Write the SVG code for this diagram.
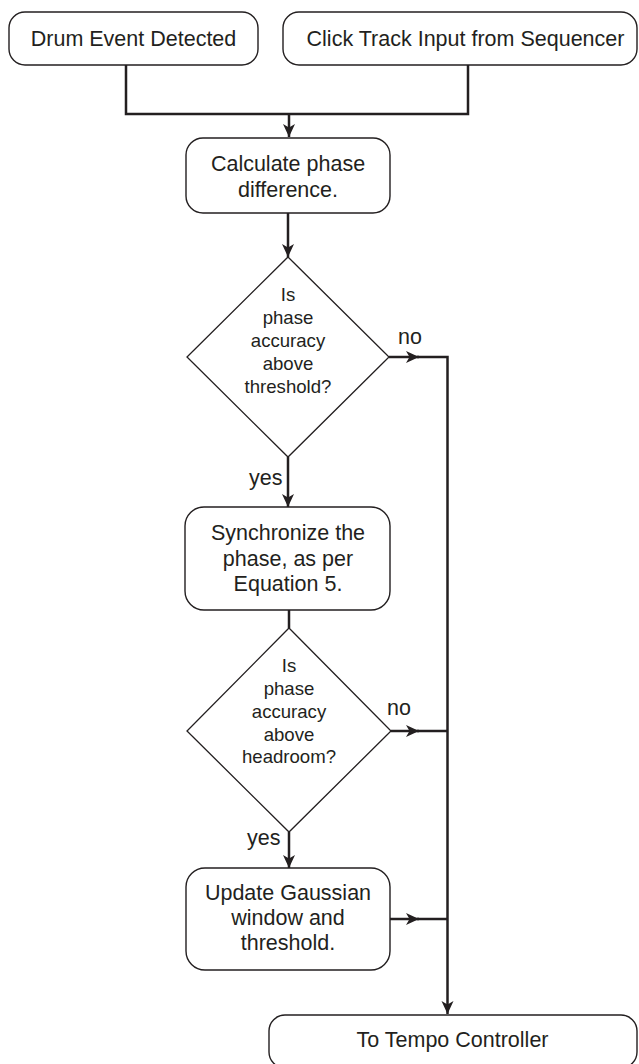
<svg xmlns="http://www.w3.org/2000/svg" width="639" height="1064" viewBox="0 0 639 1064">
  <style>
    .box { fill: #ffffff; stroke: #231f20; stroke-width: 1.4; }
    .dia { fill: #ffffff; stroke: #231f20; stroke-width: 1.3; }
    .t { font-family: "Liberation Sans", Arial, Helvetica, sans-serif; font-size: 21.5px; fill: #231f20; text-anchor: middle; }
    .td { font-family: "Liberation Sans", Arial, Helvetica, sans-serif; font-size: 18.6px; fill: #231f20; text-anchor: middle; }
    .lbl { font-family: "Liberation Sans", Arial, Helvetica, sans-serif; font-size: 21.5px; fill: #231f20; }
    .c { fill: none; stroke: #231f20; stroke-width: 2.5; }
  </style>
  <defs>
    <marker id="ah" markerUnits="userSpaceOnUse" markerWidth="16" markerHeight="14" refX="14" refY="6.5" orient="auto" viewBox="0 0 16 14">
      <path d="M14,6.5 L1,0.5 L4.5,6.5 L1,12.5 Z" fill="#231f20"/>
    </marker>
  </defs>
  <rect width="639" height="1064" fill="#ffffff"/>

  <g id="connectors">
    <path class="c" d="M126,65 V114 H468 V65"/>
    <path class="c" d="M289,114 V137" marker-end="url(#ah)"/>
    <path class="c" d="M288,213 V257" marker-end="url(#ah)"/>
    <path class="c" d="M288,457 V507" marker-end="url(#ah)"/>
    <path class="c" d="M289,610 V628"/>
    <path class="c" d="M289,832 V868" marker-end="url(#ah)"/>
    <path class="c" d="M389,357 H419" marker-end="url(#ah)"/>
    <path class="c" d="M417,357 H447.5 V1014" marker-end="url(#ah)"/>
    <path class="c" d="M391,731 H419" marker-end="url(#ah)"/>
    <path class="c" d="M417,731 H447.5"/>
    <path class="c" d="M390,919 H419" marker-end="url(#ah)"/>
    <path class="c" d="M417,919 H447.5"/>
    <text class="lbl" x="398" y="344">no</text>
    <text class="lbl" x="387" y="715">no</text>
    <text class="lbl" x="249" y="485">yes</text>
    <text class="lbl" x="247" y="845">yes</text>
  </g>

  <g id="drum">
    <rect class="box" x="9" y="12" width="249" height="53" rx="16" ry="16"/>
    <text class="t" x="133.5" y="46">Drum Event Detected</text>
  </g>
  <g id="click">
    <rect class="box" x="283" y="12" width="354" height="53" rx="16" ry="16"/>
    <text class="t" x="465.5" y="46">Click Track Input from Sequencer</text>
  </g>
  <g id="calc">
    <rect class="box" x="186" y="138" width="204" height="75" rx="17" ry="17"/>
    <text class="t" x="288" y="171">Calculate phase</text>
    <text class="t" x="288" y="197">difference.</text>
  </g>
  <g id="dec1">
    <polygon class="dia" points="288,257 389,357 288,457 187,357"/>
    <text class="td" x="288" y="301">Is</text>
    <text class="td" x="288" y="324">phase</text>
    <text class="td" x="288" y="347">accuracy</text>
    <text class="td" x="288" y="370">above</text>
    <text class="td" x="288" y="393">threshold?</text>
  </g>
  <g id="sync">
    <rect class="box" x="185" y="507" width="205" height="103" rx="19" ry="19"/>
    <text class="t" x="288" y="540">Synchronize the</text>
    <text class="t" x="288" y="566">phase, as per</text>
    <text class="t" x="288" y="591">Equation 5.</text>
  </g>
  <g id="dec2">
    <polygon class="dia" points="289,628 391,731 289,832 187,731"/>
    <text class="td" x="289" y="672">Is</text>
    <text class="td" x="289" y="695">phase</text>
    <text class="td" x="289" y="718">accuracy</text>
    <text class="td" x="289" y="741">above</text>
    <text class="td" x="289" y="763">headroom?</text>
  </g>
  <g id="update">
    <rect class="box" x="186" y="868" width="204" height="102" rx="19" ry="19"/>
    <text class="t" x="288" y="900">Update Gaussian</text>
    <text class="t" x="288" y="925">window and</text>
    <text class="t" x="288" y="950">threshold.</text>
  </g>
  <g id="tempo">
    <rect class="box" x="269" y="1015" width="368" height="53" rx="16" ry="16"/>
    <text class="t" x="452.5" y="1047">To Tempo Controller</text>
  </g>
</svg>
